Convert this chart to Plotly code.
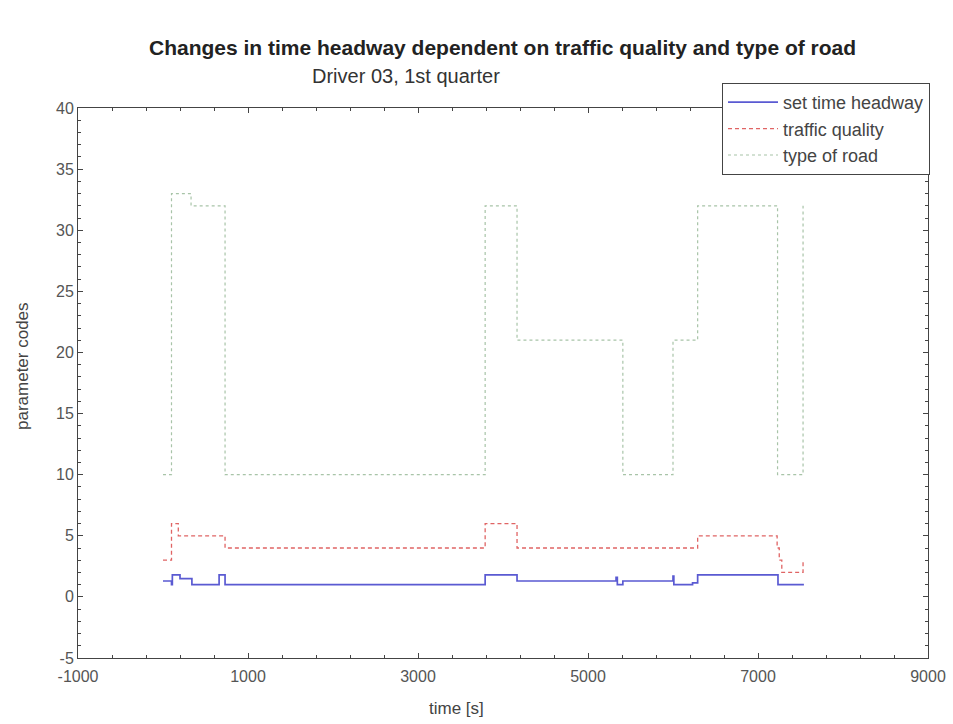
import plotly.graph_objects as go

# set time headway
headway_t = [0, 100, 110, 200, 340, 660, 730, 3790, 4165, 5330, 5345, 5410, 6000, 6010, 6230, 6290, 7235, 7540]
headway_v = [1.3, 1.0, 1.8, 1.5, 1.0, 1.8, 1.0, 1.8, 1.3, 1.6, 1.0, 1.3, 1.7, 1.0, 1.15, 1.8, 1.0, 1.0]

# traffic quality
traffic_t = [0, 100, 180, 730, 3790, 4165, 6290, 7225, 7250, 7280, 7530]
traffic_v = [3, 6, 5, 4, 6, 4, 5, 4, 3, 2, 3]

# type of road
road_t = [0, 100, 330, 730, 3790, 4165, 5410, 6000, 6290, 7230, 7530]
road_v = [10, 33, 32, 10, 32, 21, 10, 21, 32, 10, 32]

x_ticks = [-1000, 1000, 3000, 5000, 7000, 9000]
y_ticks = [-5, 0, 5, 10, 15, 20, 25, 30, 35, 40]

FONT = "Liberation Sans, Arial, sans-serif"

L, R, T, B = 78, 928, 108, 658
PW, PH = R - L, B - T

fig = go.Figure()
fig.add_trace(go.Scatter(x=headway_t, y=headway_v, mode="lines", name="set time headway",
                         line=dict(color="#5a5ad2", width=1.7, shape="hv")))
fig.add_trace(go.Scatter(x=traffic_t, y=traffic_v, mode="lines", name="traffic quality",
                         line=dict(color="#e06464", width=1.3, dash="4px,3px", shape="hv")))
fig.add_trace(go.Scatter(x=road_t, y=road_v, mode="lines", name="type of road",
                         line=dict(color="#a8c4a8", width=1.2, dash="dot", shape="hv")))

axis_common = dict(
    showgrid=False, zeroline=False, showline=True, linecolor="#444", linewidth=1,
    mirror="ticks", ticks="inside", ticklen=5, tickcolor="#444", automargin=False,
    tickfont=dict(family=FONT, size=16, color="#555"),
)

fig.update_xaxes(range=[-1000, 9000], tickvals=x_ticks, ticktext=[str(v) for v in x_ticks],
                 minor=dict(ticks="inside", dtick=400, tick0=-1000, ticklen=3, tickcolor="#444"),
                 ticklabelstandoff=4, **axis_common)
fig.update_yaxes(range=[-5, 40], tickvals=y_ticks, ticktext=[str(v) for v in y_ticks],
                 minor=dict(ticks="inside", dtick=1, tick0=0, ticklen=3, tickcolor="#444"),
                 **axis_common)

fig.update_layout(
    width=953, height=724,
    margin=dict(l=L, r=953 - R, t=T, b=724 - B, autoexpand=False),
    paper_bgcolor="white", plot_bgcolor="white",
    showlegend=True,
    legend=dict(x=(930 - L) / PW, y=(B - 83) / PH, xanchor="right", yanchor="top",
                bgcolor="white", bordercolor="#444", borderwidth=1,
                font=dict(family=FONT, size=18, color="#444"),
                tracegroupgap=0, itemwidth=50),
    annotations=[
        dict(text="<b>Changes in time headway dependent on traffic quality and type of road</b>",
             xref="paper", yref="paper", x=(502 - L) / PW, y=(B - 47) / PH,
             xanchor="center", yanchor="middle", showarrow=False,
             font=dict(family=FONT, size=21, color="#222")),
        dict(text="Driver 03, 1st quarter",
             xref="paper", yref="paper", x=(406 - L) / PW, y=(B - 76) / PH,
             xanchor="center", yanchor="middle", showarrow=False,
             font=dict(family=FONT, size=20, color="#333")),
        dict(text="time [s]",
             xref="paper", yref="paper", x=(456 - L) / PW, y=-(708 - B) / PH,
             xanchor="center", yanchor="middle", showarrow=False,
             font=dict(family=FONT, size=17, color="#444")),
        dict(text="parameter codes", textangle=-90,
             xref="paper", yref="paper", x=-(L - 22) / PW, y=(B - 366) / PH,
             xanchor="center", yanchor="middle", showarrow=False,
             font=dict(family=FONT, size=17, color="#444")),
    ],
)

fig.write_html("out.html", config={"displayModeBar": False},
               post_script="document.body.style.margin='0';document.body.style.padding='0';")
